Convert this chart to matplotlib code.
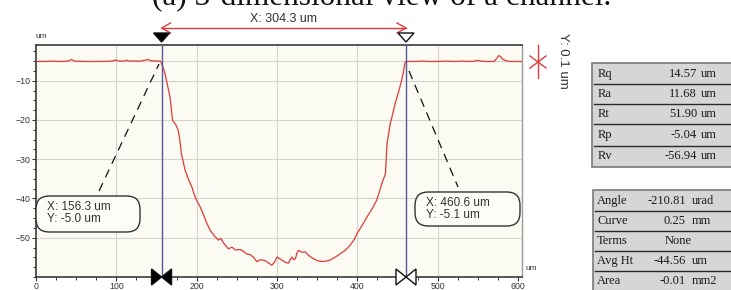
import matplotlib
matplotlib.use("Agg")
import matplotlib.pyplot as plt
from matplotlib.patches import FancyBboxPatch, Polygon, Rectangle
from matplotlib.lines import Line2D
from matplotlib.ticker import MultipleLocator, FixedLocator

# ---------------- data ----------------
profile_x = [0, 10, 20, 30, 40, 44, 48, 60, 80, 95, 99, 103, 110, 113, 116, 130, 137, 140, 143, 150, 155,
             158, 160.6, 163, 166.9, 170, 174, 177, 179, 181, 185.6, 190, 193.9, 197, 200, 204, 208, 212,
             216.7, 222, 227, 230, 234, 239.5, 244, 248, 254, 258, 262, 266.5, 271, 275, 279, 285, 290,
             293.5, 297, 300, 303, 306, 310, 314, 318.5, 321, 323, 325, 327, 331, 335, 340, 345, 350,
             353.7, 360, 366, 372, 378.6, 385, 391, 396, 399.4, 404, 408, 412, 418, 424, 427, 430.5, 435,
             436, 437, 439, 441, 444, 447, 450, 453, 455, 457, 459.5, 461,
             470, 480, 490, 500, 510, 520, 530, 540, 546, 550, 554, 560, 570, 574, 576, 578, 581, 585,
             590, 600, 606]
profile_y = [-5.1, -5.1, -5.0, -5.1, -5.0, -4.6, -5.0, -5.1, -5.1, -5.0, -4.7, -5.0, -5.0, -4.8, -5.0,
             -5.0, -4.7, -4.6, -4.9, -5.0, -5.0,
             -6.5, -8.2, -10.5, -14.2, -20.1, -21.2, -22.6, -25.0, -28.6, -32.8, -35.2, -37.0, -39.0,
             -40.5, -42.0, -43.9, -46.0, -48.1, -49.5, -50.6, -50.2, -51.5, -52.8, -52.4, -53.1, -53.0,
             -53.4, -54.1, -54.3, -55.0, -56.1, -55.6, -55.8, -56.5, -57.0, -56.2, -54.9, -55.3, -55.7,
             -56.2, -56.5, -54.9, -55.6, -55.3, -53.8, -53.2, -53.7, -53.6, -54.6, -55.3, -55.8, -56.0,
             -56.0, -55.7, -55.0, -54.1, -53.2, -51.9, -50.5, -49.0, -47.5, -46.2, -44.7, -42.8, -40.5,
             -38.6, -36.2, -33.7, -30.0, -26.0, -23.5, -20.9, -18.5, -15.9, -13.8, -11.6, -10.0, -8.2,
             -5.3, -5.1,
             -5.1, -5.0, -5.1, -5.1, -5.0, -5.1, -5.0, -5.1, -5.0, -4.8, -5.0, -5.1, -5.1, -4.2, -3.6,
             -3.8, -4.5, -4.9, -5.1, -5.1, -5.1]

x_ticks = [0, 100, 200, 300, 400, 500, 600]
y_ticks = [-50, -40, -30, -20, -10]

cursor1 = (156.3, -5.0)
cursor2 = (460.6, -5.1)
span_label = "X: 304.3 um"

table1_labels = ["Rq", "Ra", "Rt", "Rp", "Rv"]
table1_values = ["14.57", "11.68", "51.90", "-5.04", "-56.94"]
table1_units = ["um", "um", "um", "um", "um"]

table2_labels = ["Angle", "Curve", "Terms", "Avg Ht", "Area"]
table2_values = ["-210.81", "0.25", "None", "-44.56", "-0.01"]
table2_units = ["urad", "mm", "", "um", "mm2"]

title = "(a) 3-dimensional view of a channel."

# ---------------- figure ----------------
W, H = 731, 290
fig = plt.figure(figsize=(W / 100, H / 100), dpi=100)
fig.patch.set_facecolor("white")

def P(x, y):
    return (x / W, 1 - y / H)

SANS = ["Liberation Sans", "DejaVu Sans"]
SERIF = ["Liberation Serif", "DejaVu Serif"]
tf = fig.transFigure

ax_left, ax_right, ax_top, ax_bottom = 36, 522, 45, 277
ax = fig.add_axes([ax_left / W, 1 - ax_bottom / H, (ax_right - ax_left) / W, (ax_bottom - ax_top) / H])
ax.set_facecolor("#fbfbf3")
ax.set_xlim(0, 605)
ax.set_ylim(-60, -0.9)

ax.xaxis.set_major_locator(FixedLocator(x_ticks))
ax.xaxis.set_minor_locator(MultipleLocator(25))
ax.yaxis.set_major_locator(FixedLocator(y_ticks))
ax.yaxis.set_minor_locator(MultipleLocator(2.5))
ax.tick_params(axis="both", which="major", direction="out", length=3, width=0.8,
               colors="#333333", labelsize=6.3, pad=1)
ax.tick_params(axis="x", which="major", pad=0.3)
ax.tick_params(axis="both", which="minor", direction="out", length=2.5, width=0.7, colors="#333333")
for lab in ax.get_xticklabels() + ax.get_yticklabels():
    lab.set_family(SANS)

for gx in [100, 200, 300, 400, 500]:
    ax.axvline(gx, color="#d4d4cc", lw=0.8, zorder=0)
for gy in [-5, -10, -20, -30, -40, -50]:
    ax.axhline(gy, color="#d4d4cc", lw=0.8, zorder=0)

for s in ["top", "left", "bottom"]:
    ax.spines[s].set_color("#3a3a3a")
    ax.spines[s].set_linewidth(1.2)
ax.spines["right"].set_color("#9a9a9a")
ax.spines["right"].set_linewidth(1.0)

# profile
ax.plot(profile_x, profile_y, color="#e03a3a", lw=0.9, zorder=3)

# cursor lines
for cx, _ in (cursor1, cursor2):
    ax.axvline(cx, color="#55559a", lw=1.0, zorder=4)

def data_to_px_x(xv):
    return ax_left + (ax_right - ax_left) * xv / 605.0

for (cx, _), filled in ((cursor1, True), (cursor2, False)):
    px = data_to_px_x(cx)
    fc = "black" if filled else "white"
    tri = Polygon([P(px - 8, 33), P(px + 8, 33), P(px, 42)], closed=True, transform=tf,
                  facecolor=fc, edgecolor="#111111", lw=1.0, zorder=10)
    fig.add_artist(tri)
    left = Polygon([P(px - 10, 269), P(px - 10, 285), P(px, 277)], closed=True, transform=tf,
                   facecolor=fc, edgecolor="#111111", lw=1.0, zorder=10)
    right = Polygon([P(px + 10, 269), P(px + 10, 285), P(px, 277)], closed=True, transform=tf,
                    facecolor=fc, edgecolor="#111111", lw=1.0, zorder=10)
    fig.add_artist(left)
    fig.add_artist(right)

# red span arrow
x1p, x2p = data_to_px_x(cursor1[0]), data_to_px_x(cursor2[0])
ay = 28
fig.add_artist(Line2D([P(x1p, ay)[0], P(x2p, ay)[0]], [P(x1p, ay)[1], P(x2p, ay)[1]],
                      transform=tf, color="#e03a3a", lw=1.0))
for tip, d in ((x1p, 1), (x2p, -1)):
    xs = [tip + d * 9, tip, tip + d * 9]
    ys = [ay - 5, ay, ay + 5]
    fig.add_artist(Line2D([P(a, b)[0] for a, b in zip(xs, ys)], [P(a, b)[1] for a, b in zip(xs, ys)],
                          transform=tf, color="#e03a3a", lw=1.0))
fig.text(*P((x1p + x2p) / 2, 18.5), span_label, transform=tf, ha="center", va="center",
         fontsize=9, family=SANS, color="#333333")

# callouts
def callout(box, lines, line_from, line_to):
    x0, y0, x1, y1 = box
    bx = FancyBboxPatch(P(x0, y1), (x1 - x0) / W, (y1 - y0) / H,
                        boxstyle="round,pad=0,rounding_size=0.018", transform=tf,
                        facecolor="#fdfdf8", edgecolor="#333333", lw=1.0, zorder=11,
                        mutation_aspect=W / H)
    fig.add_artist(bx)
    for i, t in enumerate(lines):
        fig.text(*P(x0 + 11, y0 + 11 + i * 12), t, transform=tf, ha="left", va="center",
                 fontsize=8.5, family=SANS, color="#333333", zorder=12)
    fig.add_artist(Line2D([P(*line_from)[0], P(*line_to)[0]], [P(*line_from)[1], P(*line_to)[1]],
                          transform=tf, color="#111111", lw=0.9, linestyle=(0, (7, 5)), zorder=9))

callout((36, 196, 140, 232),
        ["X: %.1f um" % cursor1[0], "Y: %.1f um" % cursor1[1]],
        (99, 191), (159, 64))
callout((415, 192, 520, 226),
        ["X: %.1f um" % cursor2[0], "Y: %.1f um" % cursor2[1]],
        (409, 71), (458, 187))

# unit labels
fig.text(*P(36, 37), "um", transform=tf, ha="left", va="center", fontsize=6, family=SANS, color="#333333")
fig.text(*P(525, 269), "um", transform=tf, ha="left", va="center", fontsize=6, family=SANS, color="#333333")

# red marker on the right
mx, my = 538, 62
fig.add_artist(Line2D([P(mx, 45)[0], P(mx, 78)[0]], [P(mx, 45)[1], P(mx, 78)[1]], transform=tf,
                      color="#e03a3a", lw=1.0))
for dx, dy in ((8, 6), (8, -6)):
    fig.add_artist(Line2D([P(mx - dx, my - dy)[0], P(mx + dx, my + dy)[0]],
                          [P(mx - dx, my - dy)[1], P(mx + dx, my + dy)[1]], transform=tf,
                          color="#e03a3a", lw=1.0))
fig.text(*P(563, 61), "Y: 0.1 um", transform=tf, rotation=270, ha="center", va="center",
         fontsize=9.5, family=SANS, color="#333333")

# tables
def table(x0, y0, y1, row_y, seps, labels, values, units, lab_x, val_x, unit_x, none_x=None):
    fig.add_artist(Rectangle(P(x0, y1), (W + 5 - x0) / W, (y1 - y0) / H, transform=tf,
                             facecolor="#d6d6d6", edgecolor="#7a7a7a", lw=1.2, zorder=5))
    for sy in seps:
        fig.add_artist(Line2D([P(x0 + 2, sy)[0], P(W, sy)[0]], [P(x0, sy)[1], P(W, sy)[1]],
                              transform=tf, color="#2a2a2a", lw=1.0, zorder=6))
    for yy, l, v, u in zip(row_y, labels, values, units):
        fig.text(*P(lab_x, yy), l, transform=tf, ha="left", va="center", fontsize=9,
                 family=SERIF, color="#1a1a1a", zorder=7)
        if v == "None" and none_x is not None:
            fig.text(*P(none_x, yy), v, transform=tf, ha="left", va="center", fontsize=9,
                     family=SERIF, color="#1a1a1a", zorder=7)
        else:
            fig.text(*P(val_x, yy), v, transform=tf, ha="right", va="center", fontsize=9,
                     family=SERIF, color="#1a1a1a", zorder=7)
        if u:
            fig.text(*P(unit_x, yy), u, transform=tf, ha="left", va="center", fontsize=9,
                     family=SERIF, color="#1a1a1a", zorder=7)

table(592, 63, 167, [74, 94, 114, 135, 156], [84, 104, 124, 146],
      table1_labels, table1_values, table1_units, 598, 697, 701)
table(593, 190, 300, [201, 221, 241, 261, 281], [211, 231, 251, 271],
      table2_labels, table2_values, table2_units, 597, 686, 692, none_x=665)

# title (cut off at top, as in the reference)
fig.text(*P(382, 5.5), title, transform=tf, ha="center", va="baseline", fontsize=22.5,
         family=SERIF, color="#111111")

fig.savefig("out.png", dpi=100)
